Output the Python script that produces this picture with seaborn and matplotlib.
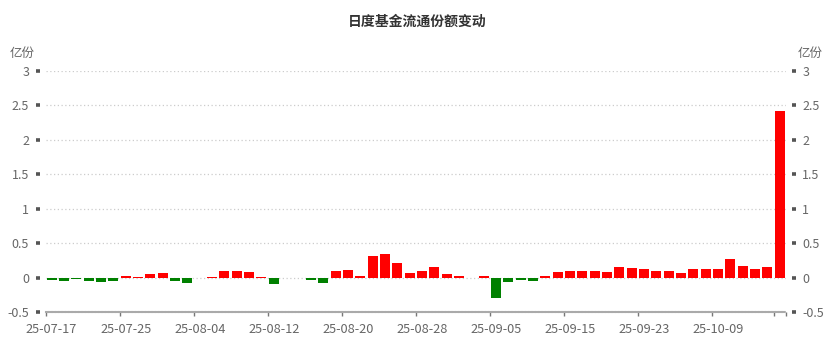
import matplotlib
matplotlib.use("Agg")
import matplotlib.pyplot as plt
import seaborn as sns
import pandas as pd
import numpy as np
from matplotlib.ticker import FixedLocator, FuncFormatter

# ---- data ----
dates = ["25-07-17", "25-07-18", "25-07-21", "25-07-22", "25-07-23", "25-07-24",
         "25-07-25", "25-07-28", "25-07-29", "25-07-30", "25-07-31", "25-08-01",
         "25-08-04", "25-08-05", "25-08-06", "25-08-07", "25-08-08", "25-08-11",
         "25-08-12", "25-08-13", "25-08-14", "25-08-15", "25-08-18", "25-08-19",
         "25-08-20", "25-08-21", "25-08-22", "25-08-25", "25-08-26", "25-08-27",
         "25-08-28", "25-08-29", "25-09-01", "25-09-02", "25-09-03", "25-09-04",
         "25-09-05", "25-09-08", "25-09-09", "25-09-10", "25-09-11", "25-09-12",
         "25-09-15", "25-09-16", "25-09-17", "25-09-18", "25-09-19", "25-09-22",
         "25-09-23", "25-09-24", "25-09-25", "25-09-26", "25-09-29", "25-09-30",
         "25-10-09", "25-10-10", "25-10-13", "25-10-14", "25-10-15", "25-10-16"]
changes = [-0.03, -0.045, -0.02, -0.045, -0.06, -0.05,
           0.03, 0.01, 0.055, 0.075, -0.055, -0.08,
           0.0, 0.01, 0.09, 0.10, 0.08, 0.015,
           -0.09, 0.0, 0.0, -0.03, -0.07, 0.09,
           0.11, 0.03, 0.31, 0.35, 0.21, 0.07,
           0.10, 0.16, 0.06, 0.025, 0.0, 0.025,
           -0.30, -0.06, -0.03, -0.045, 0.025, 0.08,
           0.09, 0.10, 0.10, 0.08, 0.155, 0.145,
           0.13, 0.10, 0.10, 0.07, 0.12, 0.12,
           0.12, 0.275, 0.17, 0.13, 0.16, 2.42]
y_ticks = [-0.5, 0, 0.5, 1, 1.5, 2, 2.5, 3]
title = "日度基金流通份额变动"
unit = "亿份"

df = pd.DataFrame({"date": dates, "change": changes})
df["sign"] = np.where(df["change"] >= 0, "up", "down")

sns.set_theme(style="white")
plt.rcParams["font.family"] = ["Noto Sans CJK SC", "DejaVu Sans"]

fig = plt.figure(figsize=(8.34, 3.5), dpi=100)
ax = fig.add_axes([45.5 / 834, 37.8 / 350, 740.5 / 834, 241.5 / 350])

sns.barplot(data=df, x="date", y="change", hue="sign",
            palette={"up": "#ff0000", "down": "#008000"},
            dodge=False, width=0.81, legend=False, ax=ax, saturation=1,
            linewidth=0)

n = len(dates)
ax.set_xlim(-0.5, n - 0.5)
ax.set_ylim(-0.5, 3)

# grid
for v in y_ticks[1:]:
    ax.axhline(v, color="#cccccc", lw=0.9, ls=(0, (1, 2)), zorder=0)

# spines
for s in ["top", "left", "right"]:
    ax.spines[s].set_visible(False)
ax.spines["left"].set_position(("outward", 4))
ax.spines["right"].set_position(("outward", 4))
ax.spines["bottom"].set_color("#aaaaaa")
ax.spines["bottom"].set_linewidth(1.5)
ax.spines["bottom"].set_linestyle((0, (1, 0.6)))

# y ticks both sides
ax.yaxis.set_major_locator(FixedLocator(y_ticks))
ax.yaxis.set_major_formatter(FuncFormatter(lambda v, p: f"{v:g}"))
ax.tick_params(axis="y", left=True, right=True, labelleft=True, labelright=True,
               length=3.2, width=2.6, color="#555555", labelcolor="#666666",
               labelsize=9, pad=4.5, direction="out")

# x ticks
label_idx = list(range(0, n, 6))
ax.set_xticks(label_idx)
ax.set_xticklabels([dates[i] for i in label_idx])
ax.tick_params(axis="x", length=0, labelsize=9.2, labelcolor="#666666", pad=8)
minor_pos = [i - 0.5 for i in label_idx] + [n - 1.5, n - 0.5]
ax.xaxis.set_minor_locator(FixedLocator(minor_pos))
ax.tick_params(axis="x", which="minor", length=3, width=1, color="#777777",
               direction="out", bottom=True)
ax.set_xlabel("")
ax.set_ylabel("")

fig.text(0.5, 1 - 22 / 350, title, ha="center", va="center",
         fontsize=10, fontweight="bold", color="#333333")
fig.text(22 / 834, 1 - 53 / 350, unit, ha="center", va="center",
         fontsize=9, color="#666666")
fig.text(810 / 834, 1 - 53 / 350, unit, ha="center", va="center",
         fontsize=9, color="#666666")

fig.savefig("out.png", dpi=100)
